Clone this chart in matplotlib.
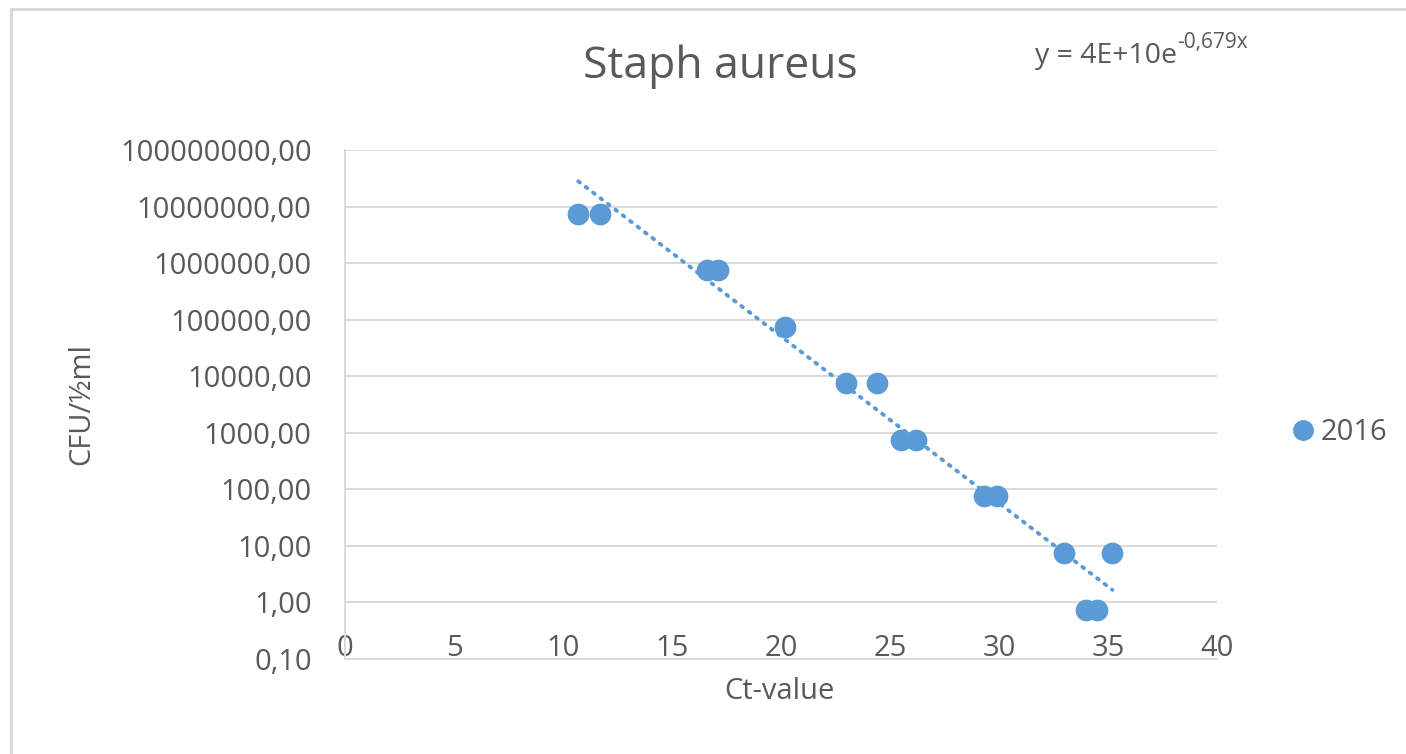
import matplotlib
matplotlib.use("Agg")
import matplotlib.pyplot as plt
from matplotlib.patches import Rectangle
from matplotlib.lines import Line2D
import numpy as np

# data
ct_value = [10.7, 11.7, 16.6, 17.1, 20.2, 23.0, 24.4, 25.5, 26.2,
            29.3, 29.9, 33.0, 35.2, 34.0, 34.5]
cfu = [7.5e6, 7.5e6, 7.5e5, 7.5e5, 7.5e4, 7.5e3, 7.5e3, 750, 750,
       75, 75, 7.5, 7.5, 0.75, 0.75]
series_name = "2016"
trend_a = 4e10       # from the trendline label
trend_b = -0.679
x_ticks = [0, 5, 10, 15, 20, 25, 30, 35, 40]
y_ticks = [0.1, 1, 10, 100, 1e3, 1e4, 1e5, 1e6, 1e7, 1e8]

plt.rcParams['font.family'] = ['Open Sans', 'DejaVu Sans']
blue = "#5B9BD5"
txt = "#595959"
grid = "#D9D9D9"

W, H = 1406, 754
fig = plt.figure(figsize=(W / 100, H / 100), dpi=100)
ax = fig.add_axes([345 / W, 1 - 659 / H, (1217 - 345) / W, (659 - 150) / H])

ax.scatter(ct_value, cfu, s=245, color=blue, zorder=3, linewidths=0)

# exponential trendline
xt = np.linspace(min(ct_value), max(ct_value), 200)
ax.plot(xt, trend_a * np.exp(trend_b * xt), color=blue, lw=2.8,
        linestyle=(0, (0.5, 1.9)), dash_capstyle="round", zorder=2)

ax.set_yscale("log")
ax.set_xlim(0, 40)
ax.set_ylim(0.1, 1e8)
ax.set_xticks(x_ticks)
ax.set_yticks(y_ticks)
ax.set_yticklabels([f"{v:.2f}".replace(".", ",") for v in y_ticks])
ax.yaxis.set_minor_locator(matplotlib.ticker.NullLocator())
ax.grid(axis="y", color=grid, lw=1.4)
ax.set_axisbelow(True)
for s in ["top", "right"]:
    ax.spines[s].set_visible(False)
for s in ["left", "bottom"]:
    ax.spines[s].set_color(grid)
    ax.spines[s].set_linewidth(1.4)
ax.tick_params(axis="both", length=0, labelsize=21, labelcolor=txt)
ax.tick_params(axis="y", pad=24)
ax.tick_params(axis="x", pad=-18)

ax.set_xlabel("Ct-value", fontsize=21, color=txt)
ax.xaxis.set_label_coords(0.498, -0.035)
ax.set_ylabel("CFU/½ml", fontsize=21, color=txt)
ax.yaxis.set_label_coords(-0.285, 0.5)

ax.set_title("Staph aureus", fontsize=32, color=txt, x=0.43, y=1.147, va="center")

eq = fig.text(1035 / W, 1 - 56 / H, "y = 4E+10e", fontsize=20.5, color=txt, va="center")
ax.annotate("-0,679x", xy=(1, 0.6), xycoords=eq, fontsize=15, color=txt,
            va="bottom", ha="left")

handle = Line2D([], [], marker="o", ls="", color=blue, markersize=14)
fig.legend([handle], [series_name], loc="center left",
           bbox_to_anchor=(1281 / W, 1 - 433 / H), frameon=False, fontsize=21,
           labelcolor=txt, handlelength=0.5, handletextpad=0.35, borderpad=0)

# chart area border
fig.patches.append(Rectangle((11 / W, -0.1), 1.2, 1.1 - 9.5 / H, fill=False,
                             edgecolor="#D9D9D9", lw=2.2, transform=fig.transFigure))

fig.savefig("out.png", dpi=100)
